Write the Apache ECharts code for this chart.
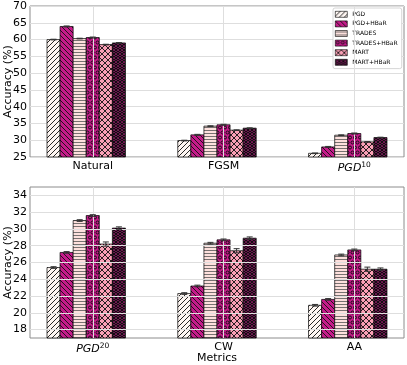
<!DOCTYPE html>
<html>
<head>
<meta charset="utf-8">
<script src="https://cdn.jsdelivr.net/npm/echarts@6/dist/echarts.min.js"></script>
<style>
  html, body { margin: 0; padding: 0; background: #fff; }
  #chart { width: 407px; height: 365px; }
</style>
</head>
<body>
<div id="chart"></div>
<script>
// methods (legend order)
const methods = ['PGD', 'PGD+HBaR', 'TRADES', 'TRADES+HBaR', 'MART', 'MART+HBaR']

// metrics on each panel
const topCats = ['Natural', 'FGSM', 'PGD^10']
const bottomCats = ['PGD^20', 'CW', 'AA']

// accuracy (%) per method, top panel
const pgdTop = [60.0, 29.9, 26.1]
const pgdHbarTop = [63.9, 31.6, 28.0]
const tradesTop = [60.3, 34.2, 31.5]
const tradesHbarTop = [60.6, 34.6, 32.0]
const martTop = [58.5, 33.0, 29.5]
const martHbarTop = [59.0, 33.6, 30.8]

// accuracy (%) per method, bottom panel
const pgdBottom = [25.4, 22.3, 20.9]
const pgdHbarBottom = [27.2, 23.2, 21.6]
const tradesBottom = [31.0, 28.3, 26.9]
const tradesHbarBottom = [31.6, 28.7, 27.5]
const martBottom = [28.2, 27.4, 25.2]
const martHbarBottom = [30.1, 28.9, 25.2]

// std error bars
const errTop = [0.1, 0.15, 0.1, 0.15, 0.1, 0.1]
const errBottom = [0.1, 0.1, 0.1, 0.1, 0.25, 0.15]

// tick labels
const topTicks = [25, 30, 35, 40, 45, 50, 55, 60, 65, 70]
const bottomTicks = [18, 20, 22, 24, 26, 28, 30, 32, 34]

const topValues = [pgdTop, pgdHbarTop, tradesTop, tradesHbarTop, martTop, martHbarTop]
const bottomValues = [pgdBottom, pgdHbarBottom, tradesBottom, tradesHbarBottom, martBottom, martHbarBottom]

// bar i of group k sits at k + i * BAR_STEP, tick under the 4th bar
const BAR_STEP = 0.1
const TICK_SHIFT = 0.3

const MAGENTA = '#c51b8a'
const INK = '#111'

// hatch tiles drawn on small canvases (like matplotlib hatches)
const tile = (w, h, bg, draw) => {
  const c = document.createElement('canvas')
  c.width = w; c.height = h
  const g = c.getContext('2d')
  g.fillStyle = bg
  g.fillRect(0, 0, w, h)
  g.strokeStyle = INK
  g.fillStyle = INK
  g.lineWidth = 0.9
  draw(g, w, h)
  return { image: c, repeat: 'repeat' }
}
const slash = (g, w, h, back) => {
  g.beginPath()
  for (const o of [-w, 0, w]) {
    if (back) { g.moveTo(o, 0); g.lineTo(o + w, h) } else { g.moveTo(o, h); g.lineTo(o + w, 0) }
  }
  g.stroke()
}
const rings = (r, lw) => (g, w, h) => {
  g.lineWidth = lw
  const pts = [[w / 2, h / 4], [0, 3 * h / 4], [w, 3 * h / 4]]
  pts.forEach(p => { g.beginPath(); g.arc(p[0], p[1], r, 0, Math.PI * 2); g.stroke() })
}

const patterns = [
  tile(5, 5, '#fff7f3', (g, w, h) => slash(g, w, h, false)),
  tile(5, 5, MAGENTA, (g, w, h) => slash(g, w, h, true)),
  tile(4, 3, '#fde0dd', (g, w) => { g.fillStyle = '#555'; g.fillRect(0, 1, w, 0.8) }),
  tile(5, 10, MAGENTA, rings(1.5, 1)),
  tile(6, 6, '#fa9fb5', (g, w, h) => { slash(g, w, h, false); slash(g, w, h, true) }),
  tile(4, 8, MAGENTA, rings(1.5, 1.3))
]

const FONT = 'DejaVu Sans'

const catLabel = (cats) => (v) => {
  const name = cats[Math.round(v - TICK_SHIFT)] || ''
  const m = name.split('^')
  return m.length > 1 ? '{it|' + m[0] + '}{sup|' + m[1] + '}' : name
}

const richLabel = {
  it: { fontStyle: 'italic', fontSize: 11, fontFamily: FONT, color: '#000' },
  sup: { fontSize: 7.5, fontFamily: FONT, color: '#000', padding: [0, 0, 7, 0] }
}

const tickPos = topCats.map((c, k) => k + TICK_SHIFT)

const makeX = (gi, cats, name) => ({
  type: 'value', gridIndex: gi, min: -0.18, max: 2.68,
  name: name, nameLocation: 'middle', nameGap: 15, nameMoveOverlap: false,
  nameTextStyle: { fontSize: 11, fontFamily: FONT, color: '#000' },
  axisLine: { show: false }, axisTick: { show: false },
  splitLine: { show: false },
  axisLabel: {
    customValues: tickPos, formatter: catLabel(cats), margin: 4,
    fontSize: 11, fontFamily: FONT, color: '#000', rich: richLabel
  }
})

const makeY = (gi, ticks, useSplit) => ({
  type: 'value', gridIndex: gi,
  min: useSplit ? ticks[0] : ticks[0] - 1,
  max: useSplit ? ticks[ticks.length - 1] : ticks[ticks.length - 1] + 1,
  interval: useSplit ? 5 : undefined,
  name: 'Accuracy (%)', nameLocation: 'middle', nameGap: 16, nameMoveOverlap: false,
  nameTextStyle: { fontSize: 11, fontFamily: FONT, color: '#000' },
  axisLine: { show: false }, axisTick: { show: false },
  splitLine: { show: useSplit, lineStyle: { color: '#dedede', width: 1 } },
  axisLabel: {
    customValues: useSplit ? undefined : ticks, margin: 3,
    fontSize: 11, fontFamily: FONT, color: '#000'
  }
})

const renderBar = (params, api) => {
  const x = api.value(0), y = api.value(1)
  const p0 = api.coord([x - BAR_STEP / 2, y])
  const p1 = api.coord([x + BAR_STEP / 2, y])
  const base = params.coordSys.y + params.coordSys.height
  return {
    type: 'rect',
    shape: { x: p0[0], y: p0[1], width: p1[0] - p0[0], height: base - p0[1] },
    style: { fill: patterns[params.seriesIndex % 8 - 1], stroke: '#000', lineWidth: 0.7 }
  }
}

const series = []
const addPanel = (gi, values, errs, ticks, gridY) => {
  // grid lines behind the bars
  const marks = tickPos.map(x => ({ xAxis: x }))
  if (gridY) ticks.forEach(t => marks.push({ yAxis: t }))
  series.push({
    type: 'line', xAxisIndex: gi, yAxisIndex: gi, data: [], z: 0, silent: true,
    markLine: {
      silent: true, symbol: 'none', label: { show: false }, animation: false,
      lineStyle: { color: '#dedede', width: 1, type: 'solid' }, data: marks
    }
  })
  const errData = []
  methods.forEach((m, i) => {
    const data = values[i].map((v, k) => [k + i * BAR_STEP, v])
    data.forEach(d => errData.push([d[0], d[1], errs[i]]))
    series.push({
      name: m, type: 'custom', xAxisIndex: gi, yAxisIndex: gi, z: 2,
      itemStyle: { color: patterns[i], borderColor: '#000', borderWidth: 0.7 },
      renderItem: renderBar,
      data: data
    })
  })
  series.push({
    type: 'custom', xAxisIndex: gi, yAxisIndex: gi, z: 5, silent: true,
    data: errData,
    renderItem: (params, api) => {
      const x = api.value(0), y = api.value(1), e = api.value(2)
      const lo = api.coord([x, y - e]), hi = api.coord([x, y + e])
      const st = { stroke: '#333', lineWidth: 1 }
      return {
        type: 'group', children: [
          { type: 'line', shape: { x1: lo[0], y1: lo[1], x2: hi[0], y2: hi[1] }, style: st },
          { type: 'line', shape: { x1: lo[0] - 3, y1: lo[1], x2: lo[0] + 3, y2: lo[1] }, style: st },
          { type: 'line', shape: { x1: hi[0] - 3, y1: hi[1], x2: hi[0] + 3, y2: hi[1] }, style: st }
        ]
      }
    }
  })
}

addPanel(0, topValues, errTop, topTicks, false)
addPanel(1, bottomValues, errBottom, bottomTicks, true)

const chart = echarts.init(document.getElementById('chart'))
chart.setOption({
  animation: false,
  textStyle: { fontFamily: FONT },
  grid: [
    { left: 30, right: 3, top: 6, height: 151, show: true, borderColor: '#8c8c8c', borderWidth: 1, outerBoundsMode: 'none', containLabel: false },
    { left: 30, right: 3, top: 187, height: 151, show: true, borderColor: '#8c8c8c', borderWidth: 1, outerBoundsMode: 'none', containLabel: false }
  ],
  xAxis: [makeX(0, topCats, ''), makeX(1, bottomCats, 'Metrics')],
  yAxis: [makeY(0, topTicks, true), makeY(1, bottomTicks, false)],
  legend: {
    data: methods, orient: 'vertical', left: 333, top: 8, icon: 'rect',
    backgroundColor: '#fff', borderColor: '#cccccc', borderWidth: 0.8, borderRadius: 2,
    padding: [3, 4, 3, 2], itemWidth: 12, itemHeight: 6, itemGap: 3,
    itemStyle: { borderColor: '#000', borderWidth: 0.6 },
    textStyle: { fontSize: 6, fontFamily: FONT, color: '#000', lineHeight: 6 }
  },
  series: series
})
</script>
</body>
</html>
